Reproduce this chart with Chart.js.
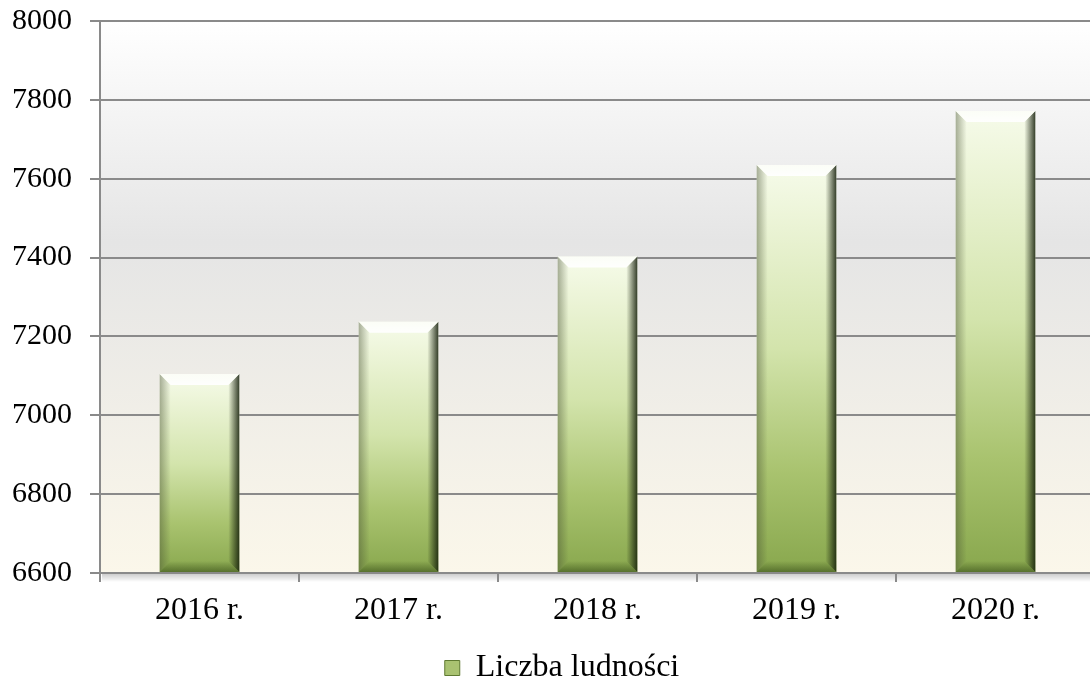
<!DOCTYPE html>
<html>
<head>
<meta charset="utf-8">
<script src="https://cdn.jsdelivr.net/npm/chart.js@4/dist/chart.umd.min.js"></script>
<style>
  html, body { margin: 0; padding: 0; overflow: hidden; background: #fff; }
  #wrap { width: 1124px; height: 684px; }
</style>
</head>
<body>
<div id="wrap"><canvas id="barChart"></canvas></div>
<script>
var years = ['2016 r.', '2017 r.', '2018 r.', '2019 r.', '2020 r.'];
var population = [7105, 7237, 7403, 7635, 7772];
var seriesName = 'Liczba ludności';
var yMin = 6600, yMax = 8000, yStep = 200;

var serif = "'Liberation Serif', 'Times New Roman', serif";

// gradient for each bar, from its top down to the axis
function barFill(context) {
    var chart = context.chart;
    var area = chart.chartArea;
    if (!area || context.parsed === undefined) return '#b5cc82';
    var top = chart.scales.y.getPixelForValue(context.parsed.y);
    var g = chart.ctx.createLinearGradient(0, top, 0, area.bottom);
    g.addColorStop(0, '#f6fbea');
    g.addColorStop(0.12, '#edf5d9');
    g.addColorStop(0.45, '#d3e4ac');
    g.addColorStop(0.75, '#a9c36f');
    g.addColorStop(1, '#88a74d');
    return g;
}

var plotBackground = {
    id: 'plotBackground',
    beforeDraw: function (chart) {
        var a = chart.chartArea, ctx = chart.ctx;
        var g = ctx.createLinearGradient(0, a.top, 0, a.bottom);
        g.addColorStop(0, '#ffffff');
        g.addColorStop(0.4, '#e5e5e5');
        g.addColorStop(1, '#fbf7ea');
        ctx.save();
        ctx.fillStyle = g;
        ctx.fillRect(a.left, a.top, a.right - a.left, a.bottom - a.top);
        // soft shadow under the category axis
        var s = ctx.createLinearGradient(0, a.bottom, 0, a.bottom + 9);
        s.addColorStop(0, 'rgba(0,0,0,0.22)');
        s.addColorStop(1, 'rgba(0,0,0,0)');
        ctx.fillStyle = s;
        ctx.fillRect(a.left + 2, a.bottom, a.right - a.left, 9);
        ctx.restore();
    }
};

// bevel look on the bars
var barBevel = {
    id: 'barBevel',
    afterDatasetsDraw: function (chart) {
        var ctx = chart.ctx;
        var area = chart.chartArea;
        chart.getDatasetMeta(0).data.forEach(function (bar) {
            var l = bar.x - bar.width / 2, r = bar.x + bar.width / 2;
            var t = bar.y, b = Math.min(bar.base, area.bottom), e = 11;
            ctx.save();
            var g;
            // left edge
            g = ctx.createLinearGradient(l, 0, l + e, 0);
            g.addColorStop(0, 'rgba(70,80,50,0.45)');
            g.addColorStop(1, 'rgba(70,80,50,0)');
            ctx.fillStyle = g;
            ctx.beginPath();
            ctx.moveTo(l, t); ctx.lineTo(l + e, t + e); ctx.lineTo(l + e, b - e); ctx.lineTo(l, b);
            ctx.closePath(); ctx.fill();
            // right edge
            g = ctx.createLinearGradient(r - e, 0, r, 0);
            g.addColorStop(0, 'rgba(20,30,10,0)');
            g.addColorStop(1, 'rgba(20,30,10,0.85)');
            ctx.fillStyle = g;
            ctx.beginPath();
            ctx.moveTo(r, t); ctx.lineTo(r - e, t + e); ctx.lineTo(r - e, b - e); ctx.lineTo(r, b);
            ctx.closePath(); ctx.fill();
            // top highlight
            g = ctx.createLinearGradient(0, t, 0, t + e);
            g.addColorStop(0, 'rgba(255,255,255,0.6)');
            g.addColorStop(1, 'rgba(255,255,255,0.95)');
            ctx.fillStyle = g;
            ctx.beginPath();
            ctx.moveTo(l, t); ctx.lineTo(r, t); ctx.lineTo(r - e, t + e); ctx.lineTo(l + e, t + e);
            ctx.closePath(); ctx.fill();
            // bottom edge
            g = ctx.createLinearGradient(0, b - e, 0, b);
            g.addColorStop(0, 'rgba(40,60,15,0)');
            g.addColorStop(1, 'rgba(40,60,15,0.5)');
            ctx.fillStyle = g;
            ctx.beginPath();
            ctx.moveTo(l, b); ctx.lineTo(r, b); ctx.lineTo(r - e, b - e); ctx.lineTo(l + e, b - e);
            ctx.closePath(); ctx.fill();
            ctx.restore();
        });
    }
};

var gridColor = '#8a8a8a';

new Chart(document.getElementById('barChart').getContext('2d'), {
    type: 'bar',
    data: {
        labels: years,
        datasets: [{
            label: seriesName,
            data: population,
            base: yMin,
            backgroundColor: barFill,
            borderWidth: 0,
            barPercentage: 0.4,
            categoryPercentage: 1
        }]
    },
    options: {
        responsive: true,
        maintainAspectRatio: false,
        animation: false,
        layout: { padding: { top: 21, left: 0, right: 0, bottom: -10 } },
        scales: {
            x: {
                grid: {
                    offset: true,
                    drawOnChartArea: false,
                    drawTicks: true,
                    tickLength: 9,
                    color: gridColor,
                    lineWidth: 2
                },
                border: { display: true, color: gridColor, width: 2 },
                ticks: {
                    padding: 9,
                    color: '#000',
                    font: { family: serif, size: 32 }
                },
                afterFit: function (scale) { scale.height = 79; }
            },
            y: {
                min: yMin,
                max: yMax,
                ticks: {
                    stepSize: yStep,
                    padding: 18,
                    color: '#000',
                    font: { family: serif, size: 30 },
                    callback: function (value) { return String(value); }
                },
                grid: {
                    color: gridColor,
                    lineWidth: 2,
                    tickLength: 10
                },
                border: { display: true, color: gridColor, width: 2 },
                afterFit: function (scale) {
                    scale.width = 100;
                    scale.paddingTop = 0;
                    scale.paddingBottom = 0;
                }
            },
            yr: {
                position: 'right',
                display: true,
                grid: { display: false },
                border: { display: false },
                ticks: { display: false },
                afterFit: function (scale) {
                    scale.width = 29;
                    scale.paddingTop = 0;
                    scale.paddingBottom = 0;
                }
            }
        },
        plugins: {
            legend: {
                position: 'bottom',
                labels: {
                    boxWidth: 15,
                    boxHeight: 15,
                    padding: 0,
                    color: '#000',
                    font: { family: serif, size: 32 },
                    generateLabels: function () {
                        return [{
                            text: seriesName,
                            fillStyle: '#a9c271',
                            strokeStyle: '#5f7a32',
                            lineWidth: 1,
                            datasetIndex: 0
                        }];
                    }
                }
            },
            tooltip: { enabled: false }
        }
    },
    plugins: [plotBackground, barBevel]
});
</script>
</body>
</html>
